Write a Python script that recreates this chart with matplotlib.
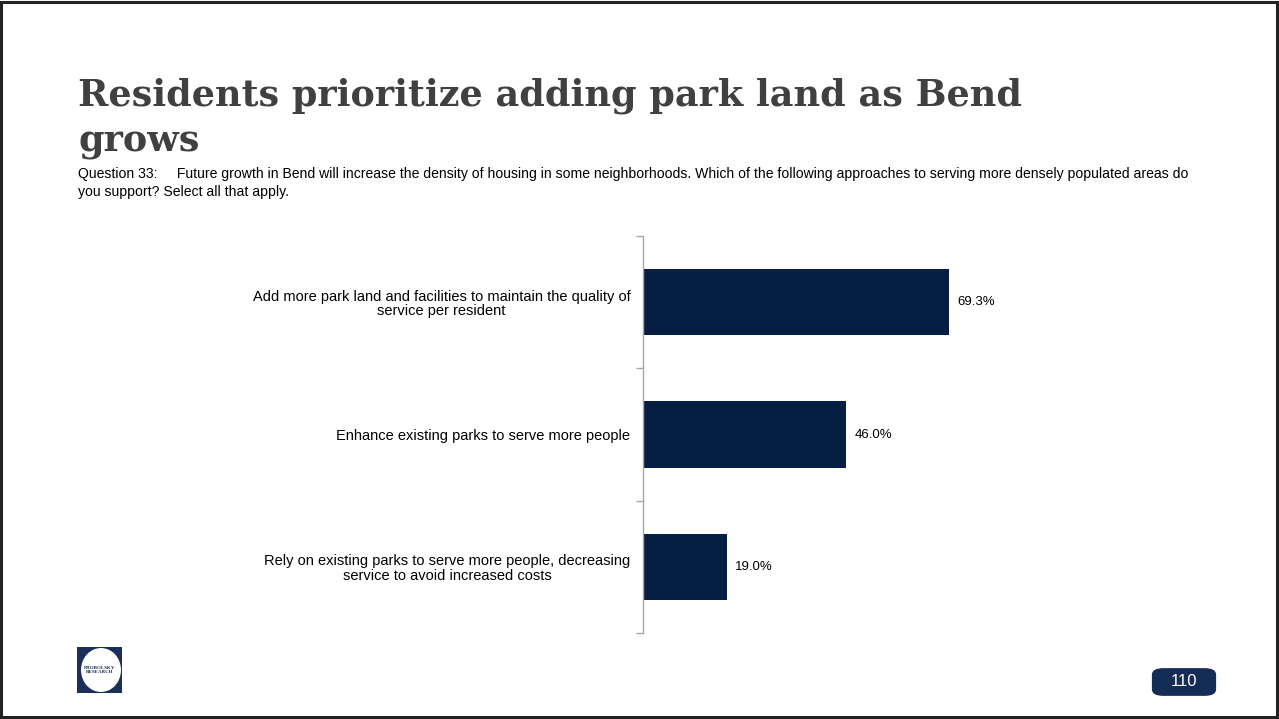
import numpy as np
import matplotlib.pyplot as plt
from matplotlib.patches import FancyBboxPatch, Rectangle, Ellipse

plt.rcParams['font.family'] = ['Liberation Sans', 'DejaVu Sans']

TITLE_1 = "Residents prioritize adding park land as Bend"
TITLE_2 = "grows"
SUB_1 = "Question 33:     Future growth in Bend will increase the density of housing in some neighborhoods. Which of the following approaches to serving more densely populated areas do"
SUB_2 = "you support? Select all that apply."
categories = [
    "Add more park land and facilities to maintain the quality of\nservice per resident",
    "Enhance existing parks to serve more people",
    "Rely on existing parks to serve more people, decreasing\nservice to avoid increased costs",
]
values = [69.3, 46.0, 19.0]
PAGE = "110"

BAR_COLOR = "#061e42"
W, H = 1279, 719

fig = plt.figure(figsize=(W / 100, H / 100), dpi=100)
fig.patch.set_facecolor("white")


def fx(px):
    return px / W


def fy(py):
    return 1 - py / H


# slide border
fig.add_artist(Rectangle((fx(1), fy(717)), fx(1276), 715 / H, transform=fig.transFigure,
                         fill=False, edgecolor="#222222", linewidth=2.2))

# title + question text
fig.text(fx(78), fy(106), TITLE_1, family="DejaVu Serif", fontweight="bold",
         fontsize=26.3, color="#404040", va="baseline")
fig.text(fx(78), fy(151), TITLE_2, family="DejaVu Serif", fontweight="bold",
         fontsize=26.3, color="#404040", va="baseline")
fig.text(fx(78), fy(178), SUB_1, fontsize=10.1, color="black", va="baseline")
fig.text(fx(78), fy(196), SUB_2, fontsize=10.1, color="black", va="baseline")

# bar chart
ax = fig.add_axes([fx(643), fy(633), fx(442), 397 / H])
y = np.arange(len(categories))
bars = ax.barh(y, values, height=0.5, color=BAR_COLOR)
ax.set_xlim(0, 100)
ax.set_ylim(len(categories) - 0.5, -0.5)
for b, v in zip(bars, values):
    ax.text(b.get_width() + 1.8, b.get_y() + b.get_height() / 2, f"{v:.1f}%",
            va="center", ha="left", fontsize=9.5, color="black")

ax.set_yticks(np.arange(len(categories) + 1) - 0.5)
ax.set_yticklabels([])
ax.set_yticks(y, categories, minor=True)
ax.tick_params(axis="y", which="major", length=5, color="#a6a6a6", width=1)
ax.tick_params(axis="y", which="minor", length=0, pad=9, labelsize=10.5)
for lab in ax.get_yticklabels(minor=True):
    lab.set_multialignment("center")
    lab.set_linespacing(1.05)
ax.set_xticks([])
for s in ("top", "right", "bottom"):
    ax.spines[s].set_visible(False)
ax.spines["left"].set_color("#a6a6a6")
ax.spines["left"].set_linewidth(1)

# logo
fig.add_artist(Rectangle((fx(77), fy(693)), fx(45), 46 / H, transform=fig.transFigure,
                         facecolor="#1b2f5a", edgecolor="none"))
fig.add_artist(Ellipse((fx(101), fy(670)), fx(40), 44 / H, transform=fig.transFigure,
                       facecolor="white", edgecolor="none"))
fig.text(fx(100), fy(670), "PROBOLSKY\nRESEARCH", family="Liberation Serif",
         fontweight="bold", fontsize=3.6, color="#1b2f5a", ha="center", va="center",
         linespacing=1.0)

# page number pill
fig.add_artist(FancyBboxPatch((fx(1157), fy(693)), fx(54), 22 / H,
                              boxstyle="round,pad=0.004,rounding_size=0.009",
                              transform=fig.transFigure, facecolor="#142c56",
                              edgecolor="none"))
fig.text(fx(1184), fy(682), PAGE, fontsize=12, color="white", ha="center", va="center")

fig.savefig("out.png", dpi=100)
